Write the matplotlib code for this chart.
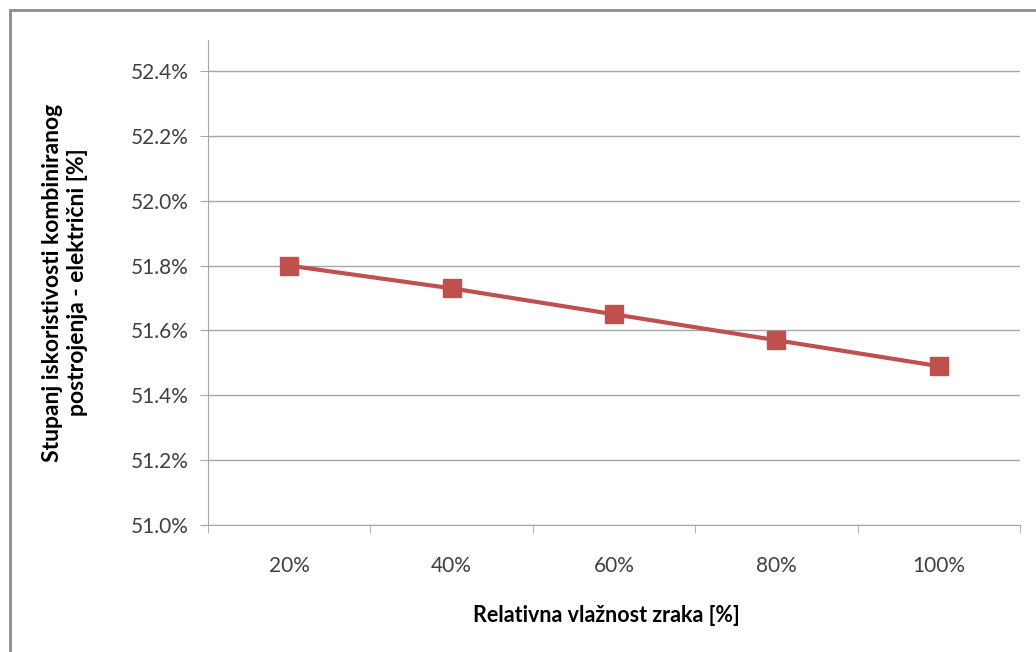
import matplotlib.pyplot as plt
from matplotlib.patches import Rectangle
from matplotlib.ticker import FixedLocator

# data
humidity = ['20%', '40%', '60%', '80%', '100%']
efficiency = [51.80, 51.73, 51.65, 51.57, 51.49]
y_ticks = [51.0, 51.2, 51.4, 51.6, 51.8, 52.0, 52.2, 52.4]

plt.rcParams['font.family'] = ['Lato', 'DejaVu Sans']

fig = plt.figure(figsize=(10.36, 6.52), dpi=100)
ax = fig.add_axes([208 / 1036, 1 - 525 / 652, 812 / 1036, 485 / 652])

# outer chart border (partly cut off at right/bottom like the screenshot)
fig.patches.append(Rectangle((10 / 1036, -0.1), 2.0, 1.1 - 10 / 652,
                             transform=fig.transFigure, fill=False,
                             edgecolor='#8c8c8c', lw=2.0))

x = list(range(len(humidity)))
ax.plot(x, efficiency, color='#c0504d', lw=3.0, marker='s', markersize=13,
        markeredgecolor='#c0504d', zorder=3)

ax.set_xlim(-0.5, len(humidity) - 0.5)
ax.set_ylim(51.0, 52.496)
ax.set_yticks(y_ticks)
ax.set_yticklabels([f'{v:.1f}%' for v in y_ticks])
ax.set_xticks(x)
ax.set_xticklabels(humidity)
ax.xaxis.set_minor_locator(FixedLocator([i - 0.5 for i in range(len(humidity) + 1)]))

ax.grid(axis='y', color='#a6a6a6', lw=1.0)
ax.set_axisbelow(True)
for s in ['top', 'right']:
    ax.spines[s].set_visible(False)
ax.spines['left'].set_color('#a6a6a6')
ax.spines['bottom'].set_color('#a6a6a6')

ax.tick_params(axis='y', length=6, color='#a6a6a6', labelsize=15,
               labelcolor='#404040', pad=8)
ax.tick_params(axis='x', which='major', length=0, labelsize=15,
               labelcolor='#404040', pad=22)
ax.tick_params(axis='x', which='minor', length=6, color='#a6a6a6')

ax.set_xlabel('Relativna vlažnost zraka [%]', fontsize=15.5, fontweight='bold')
ax.xaxis.set_label_coords(0.49, -0.165)
ax.set_ylabel('Stupanj iskoristivosti kombiniranog\npostrojenja - električni [%]',
              fontsize=16.5, fontweight='bold', linespacing=1.2)
ax.yaxis.set_label_coords(-0.148, 0.5)

fig.savefig('out.png', dpi=100)
